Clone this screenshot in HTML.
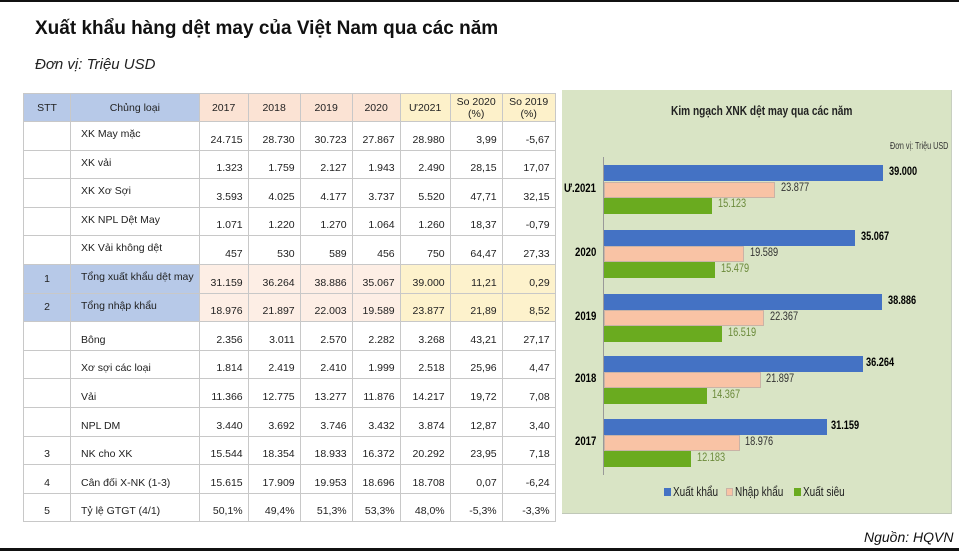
<!DOCTYPE html>
<html><head><meta charset="utf-8"><style>
body{margin:0;width:959px;height:551px;background:#fff;position:relative;overflow:hidden;font-family:"Liberation Sans",sans-serif}
.t{position:absolute;white-space:nowrap}
table{position:absolute;left:23px;top:93px;border-collapse:collapse;table-layout:fixed;font-size:10.5px;color:#222}
td{border:1px solid #c8c8c8;padding:0 5px;height:28.6px;vertical-align:bottom;text-align:right;padding-bottom:4px;box-sizing:border-box;white-space:nowrap;overflow:hidden}
td.n{text-align:left;vertical-align:top;padding-top:6px;padding-left:10px;padding-bottom:0}
td.s{text-align:center;vertical-align:middle;padding:0}
td.m{vertical-align:bottom;padding-bottom:4px;padding-top:0}
tr.h td{text-align:center;vertical-align:middle;padding:0;height:28px;background:#fbe3d4}
tr.h td.b,tr.k td.b{background:#b7c9e8}
tr.h td.y{background:#fdf1ca}
tr.k td{background:#fdeee5}
tr.k td.y{background:#fdf2cc}
.bar{position:absolute;height:16px}
.bl{background:#4472c4}.sa{background:#f9c3a5;box-shadow:inset 0 0 0 1px #c9b3a6}.gr{background:#6aab1f}
.c{font-size:11.5px;position:absolute;white-space:nowrap;transform:scaleX(0.8);transform-origin:0 0}
</style></head><body>
<div style="position:absolute;left:0;top:0;width:959px;height:2px;background:#111"></div>
<div style="position:absolute;left:0;top:548px;width:959px;height:3px;background:#111"></div>
<div class="t" style="left:35px;top:18px;font-size:19px;font-weight:bold;color:#111">Xuất khẩu hàng dệt may của Việt Nam qua các năm</div>
<div class="t" style="left:35px;top:56px;font-size:15px;font-style:italic;color:#222">Đơn vị: Triệu USD</div>
<table>
<colgroup><col style="width:47px"><col style="width:126px"><col style="width:49px"><col style="width:52px"><col style="width:52px"><col style="width:48px"><col style="width:50px"><col style="width:52px"><col style="width:53px"></colgroup>
<tr class="h"><td class="b">STT</td><td class="b">Chủng loại</td><td>2017</td><td>2018</td><td>2019</td><td>2020</td><td class="y">Ư2021</td><td class="y">So 2020<br>(%)</td><td class="y">So 2019<br>(%)</td></tr>
<tr><td></td><td class="n">XK May mặc</td><td>24.715</td><td>28.730</td><td>30.723</td><td>27.867</td><td>28.980</td><td>3,99</td><td>-5,67</td></tr>
<tr><td></td><td class="n">XK vải</td><td>1.323</td><td>1.759</td><td>2.127</td><td>1.943</td><td>2.490</td><td>28,15</td><td>17,07</td></tr>
<tr><td></td><td class="n">XK Xơ Sợi</td><td>3.593</td><td>4.025</td><td>4.177</td><td>3.737</td><td>5.520</td><td>47,71</td><td>32,15</td></tr>
<tr><td></td><td class="n">XK NPL Dệt May</td><td>1.071</td><td>1.220</td><td>1.270</td><td>1.064</td><td>1.260</td><td>18,37</td><td>-0,79</td></tr>
<tr><td></td><td class="n">XK Vải không dệt</td><td>457</td><td>530</td><td>589</td><td>456</td><td>750</td><td>64,47</td><td>27,33</td></tr>
<tr class="k"><td class="s b">1</td><td class="n b">Tổng xuất khẩu dệt may</td><td>31.159</td><td>36.264</td><td>38.886</td><td>35.067</td><td class="y">39.000</td><td class="y">11,21</td><td class="y">0,29</td></tr>
<tr class="k"><td class="s b">2</td><td class="n b">Tổng nhập khẩu</td><td>18.976</td><td>21.897</td><td>22.003</td><td>19.589</td><td class="y">23.877</td><td class="y">21,89</td><td class="y">8,52</td></tr>
<tr><td></td><td class="n m">Bông</td><td>2.356</td><td>3.011</td><td>2.570</td><td>2.282</td><td>3.268</td><td>43,21</td><td>27,17</td></tr>
<tr><td></td><td class="n m">Xơ sợi các loại</td><td>1.814</td><td>2.419</td><td>2.410</td><td>1.999</td><td>2.518</td><td>25,96</td><td>4,47</td></tr>
<tr><td></td><td class="n m">Vải</td><td>11.366</td><td>12.775</td><td>13.277</td><td>11.876</td><td>14.217</td><td>19,72</td><td>7,08</td></tr>
<tr><td></td><td class="n m">NPL DM</td><td>3.440</td><td>3.692</td><td>3.746</td><td>3.432</td><td>3.874</td><td>12,87</td><td>3,40</td></tr>
<tr><td class="s m">3</td><td class="n m">NK cho XK</td><td>15.544</td><td>18.354</td><td>18.933</td><td>16.372</td><td>20.292</td><td>23,95</td><td>7,18</td></tr>
<tr><td class="s m">4</td><td class="n m">Cân đối X-NK (1-3)</td><td>15.615</td><td>17.909</td><td>19.953</td><td>18.696</td><td>18.708</td><td>0,07</td><td>-6,24</td></tr>
<tr><td class="s m">5</td><td class="n m">Tỷ lệ GTGT (4/1)</td><td>50,1%</td><td>49,4%</td><td>51,3%</td><td>53,3%</td><td>48,0%</td><td>-5,3%</td><td>-3,3%</td></tr>
</table>

<div style="position:absolute;left:562px;top:90px;width:389px;height:423px;background:#d9e4c5;border-right:1px solid #c8cfc0;border-bottom:1px solid #c0c8b8"></div>
<div class="c" style="left:671px;top:103px;font-size:13px;font-weight:bold;color:#222;transform:scaleX(0.78)">Kim ngạch XNK dệt may qua các năm</div>
<div class="c" style="left:890px;top:141px;font-size:10px;color:#333;transform:scaleX(0.72)">Đơn vị: Triệu USD</div>
<div style="position:absolute;left:603px;top:157px;width:1px;height:318px;background:#999"></div>

<div class="bar bl" style="left:604px;top:165px;width:279px"></div>
<div class="bar sa" style="left:604px;top:182px;width:171px"></div>
<div class="bar gr" style="left:604px;top:198px;width:108px"></div>
<div class="c" style="left:889px;top:166px;font-weight:bold">39.000</div>
<div class="c" style="left:781px;top:182px;color:#333">23.877</div>
<div class="c" style="left:718px;top:198px;color:#6b8a3a">15.123</div>
<div class="c" style="left:564px;top:181px;font-weight:bold;font-size:12px">Ư.2021</div>

<div class="bar bl" style="left:604px;top:230px;width:251px"></div>
<div class="bar sa" style="left:604px;top:246px;width:140px"></div>
<div class="bar gr" style="left:604px;top:262px;width:111px"></div>
<div class="c" style="left:861px;top:231px;font-weight:bold">35.067</div>
<div class="c" style="left:750px;top:247px;color:#333">19.589</div>
<div class="c" style="left:721px;top:263px;color:#6b8a3a">15.479</div>
<div class="c" style="left:575px;top:245px;font-weight:bold;font-size:12px">2020</div>

<div class="bar bl" style="left:604px;top:294px;width:278px"></div>
<div class="bar sa" style="left:604px;top:310px;width:160px"></div>
<div class="bar gr" style="left:604px;top:326px;width:118px"></div>
<div class="c" style="left:888px;top:295px;font-weight:bold">38.886</div>
<div class="c" style="left:770px;top:311px;color:#333">22.367</div>
<div class="c" style="left:728px;top:327px;color:#6b8a3a">16.519</div>
<div class="c" style="left:575px;top:309px;font-weight:bold;font-size:12px">2019</div>

<div class="bar bl" style="left:604px;top:356px;width:259px"></div>
<div class="bar sa" style="left:604px;top:372px;width:157px"></div>
<div class="bar gr" style="left:604px;top:388px;width:103px"></div>
<div class="c" style="left:866px;top:357px;font-weight:bold">36.264</div>
<div class="c" style="left:766px;top:373px;color:#333">21.897</div>
<div class="c" style="left:712px;top:389px;color:#6b8a3a">14.367</div>
<div class="c" style="left:575px;top:371px;font-weight:bold;font-size:12px">2018</div>

<div class="bar bl" style="left:604px;top:419px;width:223px"></div>
<div class="bar sa" style="left:604px;top:435px;width:136px"></div>
<div class="bar gr" style="left:604px;top:451px;width:87px"></div>
<div class="c" style="left:831px;top:420px;font-weight:bold">31.159</div>
<div class="c" style="left:745px;top:436px;color:#333">18.976</div>
<div class="c" style="left:697px;top:452px;color:#6b8a3a">12.183</div>
<div class="c" style="left:575px;top:434px;font-weight:bold;font-size:12px">2017</div>

<div style="position:absolute;left:664px;top:488px;width:7px;height:8px;background:#4472c4"></div>
<div class="c" style="left:673px;top:485px;font-size:12.5px;color:#222">Xuất khẩu</div>
<div style="position:absolute;left:726px;top:488px;width:7px;height:8px;background:#f9c3a5;box-shadow:inset 0 0 0 1px #c9b3a6"></div>
<div class="c" style="left:735px;top:485px;font-size:12.5px;color:#222">Nhập khẩu</div>
<div style="position:absolute;left:794px;top:488px;width:7px;height:8px;background:#6aab1f"></div>
<div class="c" style="left:803px;top:485px;font-size:12.5px;color:#222">Xuất siêu</div>

<div class="t" style="left:864px;top:529px;font-size:14px;font-style:italic;color:#111">Nguồn: HQVN</div>
</body></html>
